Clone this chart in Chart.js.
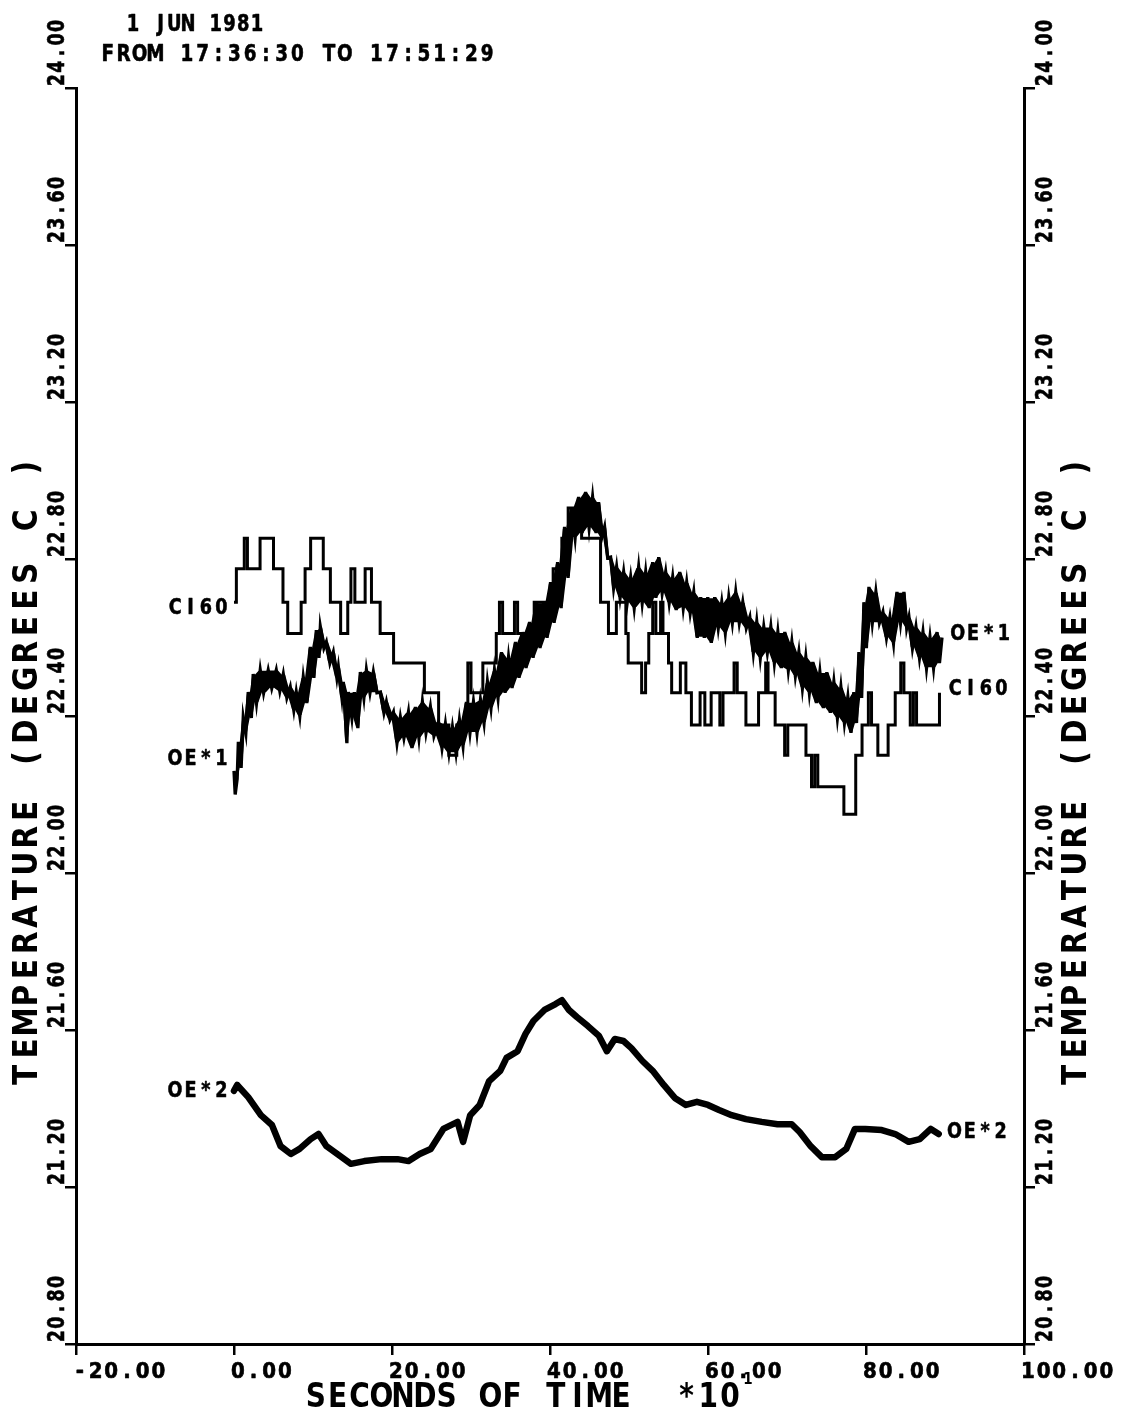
<!DOCTYPE html>
<html>
<head>
<meta charset="utf-8">
<script src="https://cdn.jsdelivr.net/npm/chart.js@4"></script>
<style>
  html, body { margin: 0; padding: 0; background: #fff; }
  #c { display: block; }
</style>
</head>
<body>
<canvas id="c" width="1132" height="1416"></canvas>
<script>
// ---------------- data (time in seconds x10, temperature in deg C) ----------------
const xTicks = [-20, 0, 20, 40, 60, 80, 100];
const yTicks = [20.8, 21.2, 21.6, 22.0, 22.4, 22.8, 23.2, 23.6, 24.0];

const headerLine1 = "1 JUN 1981";
const headerLine2 = "FROM 17:36:30 TO 17:51:29";
const xTitle = "SECONDS OF TIME  *10";
const xTitleExp = "1";
const yTitle = "TEMPERATURE (DEGREES C )";
const seriesNames = ["CI60", "OE*1", "OE*2"];

const timeCI60 = [0, 0.3, 1.3, 1.7, 3.3, 5.0, 6.2, 6.8, 8.5, 9.0, 9.7, 11.3, 12.2, 13.5, 14.4, 14.8, 15.3, 16.6, 17.4, 18.5,
  20.2, 24.1, 25.9, 27.2, 28.2, 29.6, 30.0, 31.5, 33.2, 33.6, 34.0, 35.5, 35.9, 38.0, 40.4, 41.5, 42.3, 44.0, 46.4, 47.4,
  48.4, 49.6, 49.9, 51.6, 52.1, 52.5, 53.0, 53.4, 54.0, 54.3, 55.0, 55.4, 56.5, 57.2, 57.9, 59.0, 59.6, 60.4, 61.5, 61.9,
  63.3, 63.7, 64.8, 66.4, 67.3, 67.6, 68.5, 69.7, 70.1, 72.4, 73.1, 73.5, 73.9, 77.2, 78.7, 79.5, 80.3, 80.7, 81.5, 82.8,
  83.7, 84.4, 84.8, 85.6, 86.0, 86.4, 89.3];
const ci60 = [22.69, 22.775, 22.853, 22.775, 22.853, 22.775, 22.69, 22.61, 22.69, 22.775, 22.853, 22.775, 22.69, 22.61, 22.69, 22.775, 22.69, 22.775, 22.69, 22.61,
  22.535, 22.459, 22.377, 22.30, 22.377, 22.535, 22.459, 22.535, 22.61, 22.69, 22.61, 22.69, 22.61, 22.69, 22.775, 22.853, 22.93, 22.853, 22.69, 22.61,
  22.69, 22.61, 22.535, 22.459, 22.535, 22.61, 22.69, 22.61, 22.69, 22.61, 22.535, 22.459, 22.535, 22.459, 22.377, 22.459, 22.377, 22.459, 22.377, 22.459,
  22.535, 22.459, 22.377, 22.459, 22.535, 22.459, 22.377, 22.30, 22.377, 22.30, 22.22, 22.30, 22.22, 22.15, 22.30, 22.377, 22.459, 22.377, 22.30, 22.377,
  22.459, 22.535, 22.459, 22.377, 22.459, 22.377, 22.459];

const timeOE1 = [0.00, 0.15, 0.40, 0.55, 0.90, 1.17, 1.50, 1.80, 2.20, 2.43, 2.85, 3.32, 3.75, 4.33, 4.78, 5.35, 5.80, 6.24, 6.69, 7.12,
  7.57, 7.88, 8.33, 8.77, 9.22, 9.66, 10.11, 10.42, 10.75, 10.93, 11.38, 11.69, 12.14, 12.57, 13.02, 13.21, 13.66, 13.84, 14.29, 14.47,
  14.92, 15.23, 15.68, 15.99, 16.44, 16.76, 17.21, 17.64, 18.09, 18.53, 18.98, 19.29, 19.74, 20.18, 20.63, 21.06, 21.51, 22.08, 22.53, 22.96,
  23.41, 23.85, 24.30, 24.86, 25.31, 25.88, 26.33, 26.76, 27.21, 27.65, 28.10, 28.54, 28.99, 29.42, 29.87, 30.31, 30.76, 31.20, 31.65, 32.08,
  32.53, 32.97, 33.42, 33.86, 34.31, 34.75, 35.20, 35.63, 36.08, 36.52, 36.97, 37.41, 37.86, 38.29, 38.74, 39.18, 39.63, 40.07, 40.52, 40.96,
  41.41, 41.84, 42.29, 42.73, 43.18, 43.62, 44.07, 44.50, 44.95, 45.39, 45.84, 46.15, 46.55, 46.91, 47.30, 47.67, 48.05, 48.43, 48.87, 49.32,
  49.77, 50.21, 50.66, 51.22, 51.67, 52.11, 52.56, 53.00, 53.40, 53.76, 54.20, 54.64, 55.09, 55.53, 55.98, 56.42, 56.87, 57.30, 57.75, 58.19,
  58.64, 59.08, 59.53, 59.97, 60.42, 60.85, 61.30, 61.74, 62.19, 62.63, 63.08, 63.51, 63.96, 64.40, 64.85, 65.29, 65.74, 66.17, 66.62, 67.06,
  67.51, 67.95, 68.40, 68.84, 69.29, 69.72, 70.17, 70.61, 71.06, 71.50, 71.95, 72.38, 72.83, 73.27, 73.72, 74.16, 74.61, 75.04, 75.49, 75.93,
  76.38, 76.82, 77.27, 77.70, 78.10, 78.46, 78.80, 79.10, 79.45, 79.73, 80.05, 80.37, 80.80, 81.25, 81.70, 82.14, 82.59, 83.03, 83.48, 83.92,
  84.37, 84.80, 85.15, 85.44, 85.88, 86.32, 86.77, 87.21, 87.66, 88.10, 88.55, 88.99, 89.30, 89.62];
const oe1 = [22.26, 22.20, 22.24, 22.334, 22.268, 22.397, 22.357, 22.461, 22.395, 22.507, 22.433, 22.517, 22.459, 22.517, 22.471, 22.517, 22.463, 22.507, 22.446, 22.474,
  22.415, 22.461, 22.400, 22.499, 22.433, 22.576, 22.497, 22.619, 22.548, 22.627, 22.573, 22.589, 22.535, 22.563, 22.497, 22.525, 22.446, 22.487, 22.331, 22.461,
  22.395, 22.461, 22.369, 22.512, 22.446, 22.517, 22.459, 22.512, 22.459, 22.461, 22.408, 22.436, 22.390, 22.410, 22.331, 22.397, 22.344, 22.410, 22.318, 22.423,
  22.344, 22.436, 22.357, 22.423, 22.349, 22.385, 22.318, 22.380, 22.306, 22.372, 22.306, 22.390, 22.324, 22.436, 22.357, 22.436, 22.357, 22.441, 22.382, 22.487,
  22.420, 22.517, 22.446, 22.563, 22.459, 22.550, 22.471, 22.589, 22.497, 22.614, 22.522, 22.640, 22.548, 22.690, 22.573, 22.690, 22.599, 22.741, 22.637, 22.792,
  22.675, 22.882, 22.752, 22.932, 22.854, 22.958, 22.866, 22.971, 22.879, 22.958, 22.866, 22.945, 22.854, 22.882, 22.803, 22.805, 22.726, 22.780, 22.701, 22.767,
  22.688, 22.754, 22.675, 22.780, 22.688, 22.767, 22.675, 22.792, 22.701, 22.805, 22.713, 22.767, 22.688, 22.754, 22.670, 22.767, 22.675, 22.741, 22.662, 22.716,
  22.599, 22.703, 22.599, 22.703, 22.586, 22.703, 22.624, 22.690, 22.612, 22.703, 22.637, 22.716, 22.637, 22.690, 22.624, 22.652, 22.561, 22.640, 22.548, 22.627,
  22.561, 22.627, 22.535, 22.614, 22.522, 22.614, 22.517, 22.589, 22.502, 22.563, 22.471, 22.550, 22.459, 22.538, 22.433, 22.512, 22.420, 22.512, 22.408, 22.487,
  22.395, 22.474, 22.382, 22.448, 22.357, 22.461, 22.382, 22.563, 22.446, 22.690, 22.573, 22.729, 22.637, 22.716, 22.637, 22.665, 22.599, 22.652, 22.586, 22.716,
  22.637, 22.716, 22.624, 22.652, 22.573, 22.627, 22.548, 22.614, 22.522, 22.601, 22.522, 22.614, 22.535, 22.600];

const timeOE2 = [0, 0.4, 1.8, 3.4, 4.8, 5.9, 7.2, 8.3, 9.7, 10.7, 11.7, 13.1, 14.8, 16.5, 18.7, 20.7, 22.1, 23.5, 24.9, 26.5,
  28.3, 29.0, 29.9, 31.1, 32.3, 33.7, 34.5, 35.9, 36.9, 37.9, 39.3, 40.7, 41.5, 42.4, 43.4, 44.8, 46.2, 47.2, 48.2, 49.3,
  50.3, 51.7, 53.0, 54.4, 55.8, 57.2, 58.6, 60.0, 61.4, 63.0, 64.8, 66.8, 68.8, 70.6, 71.6, 73.0, 74.4, 76.1, 77.5, 78.6,
  79.9, 82.0, 83.7, 85.4, 86.8, 88.2, 89.2];
const oe2 = [21.445, 21.46, 21.429, 21.383, 21.358, 21.304, 21.284, 21.297, 21.322, 21.335, 21.304, 21.284, 21.259, 21.266, 21.271, 21.271, 21.266, 21.284, 21.297, 21.348,
  21.366, 21.315, 21.383, 21.409, 21.470, 21.496, 21.529, 21.546, 21.590, 21.623, 21.651, 21.666, 21.676, 21.651, 21.633, 21.610, 21.585, 21.546, 21.577, 21.572,
  21.554, 21.521, 21.496, 21.460, 21.427, 21.409, 21.417, 21.409, 21.396, 21.383, 21.373, 21.366, 21.360, 21.360, 21.340, 21.304, 21.276, 21.276, 21.297, 21.348,
  21.348, 21.345, 21.335, 21.315, 21.322, 21.348, 21.335];

// ---------------- helpers ----------------
const pts = (xs, ys) => xs.map((x, i) => ({ x: x, y: ys[i] }));
// solid core of the noisy OE*1 trace: the inner part of each swing between consecutive readings
function coreBand(xs, ys, frac, upper) {
  const out = [];
  for (let i = 0; i < xs.length - 1; i++) {
    const mid = (ys[i] + ys[i + 1]) / 2, half = Math.abs(ys[i] - ys[i + 1]) / 2 * frac;
    out.push({ x: (xs[i] + xs[i + 1]) / 2, y: upper ? mid + half : mid - half });
  }
  return out;
}
const FONT = '"DejaVu Sans", "Liberation Sans", sans-serif';

// plotter-style lettering: every character centred in a fixed-width cell, squeezed horizontally
function drawMono(ctx, str, x, y, adv, size, rotated, weight, sx) {
  ctx.save();
  ctx.translate(x, y);
  if (rotated) ctx.rotate(-Math.PI / 2);
  ctx.font = 'bold ' + size + 'px ' + FONT;
  ctx.textAlign = 'center';
  ctx.textBaseline = 'alphabetic';
  ctx.fillStyle = '#000';
  ctx.strokeStyle = '#000';
  ctx.lineJoin = 'round';
  for (let i = 0; i < str.length; i++) {
    ctx.save();
    ctx.translate((i + 0.5) * adv, 0);
    ctx.scale(sx || 1, 1);
    ctx.fillText(str[i], 0, 0);
    if (weight) { ctx.lineWidth = weight; ctx.strokeText(str[i], 0, 0); }
    ctx.restore();
  }
  ctx.restore();
}

const textPlugin = {
  id: 'plotterText',
  afterDraw(chart) {
    const ctx = chart.ctx;
    const xs = chart.scales.x, yl = chart.scales.y, yr = chart.scales.y2;
    const area = chart.chartArea;

    // header
    drawMono(ctx, headerLine1, 126, 31, 13.8, 23, false, 0.6, 0.78);
    drawMono(ctx, headerLine2, 100, 61, 15.8, 23, false, 0.6, 0.8);

    // x tick labels
    xTicks.forEach(v => {
      const px = xs.getPixelForValue(v);
      drawMono(ctx, v.toFixed(2), px - 4, area.bottom + 34, 15.7, 22, false, 0.7, 0.9);
    });
    // x title
    drawMono(ctx, xTitle, 305, area.bottom + 63, 21.8, 33, false, 0, 0.85);
    drawMono(ctx, xTitleExp, 305 + xTitle.length * 21.8 + 2, area.bottom + 40, 10, 15, false, 0, 0.9);

    // y tick labels (both sides), rotated
    yTicks.forEach(v => {
      drawMono(ctx, v.toFixed(2), area.left - 12, yl.getPixelForValue(v) - 1, 13.6, 23, true, 0.6, 0.76);
      drawMono(ctx, v.toFixed(2), area.right + 28, yr.getPixelForValue(v) - 1, 13.6, 23, true, 0.6, 0.76);
    });
    // y titles
    drawMono(ctx, yTitle, area.left - 39, 1088, 26.4, 33, true, 0, 0.9);
    drawMono(ctx, yTitle, area.right + 62, 1088, 26.4, 33, true, 0, 0.9);

    // series labels at the start and end of each curve
    const adv = 15.4;
    chart.data.datasets.forEach((ds, i) => {
      const k = seriesNames.indexOf(ds.label);
      if (k < 0) return;
      const meta = chart.getDatasetMeta(i);
      const first = meta.data[0], last = meta.data[meta.data.length - 1];
      const offL = [12, -6, 6][k];
      const offR = [2, 2, 4][k];
      drawMono(ctx, ds.label, first.x - 5 - ds.label.length * adv, first.y + offL, adv, 22, false, 0.6, 0.8);
      drawMono(ctx, ds.label, last.x + 8, last.y + offR, adv, 22, false, 0.6, 0.8);
    });
  }
};

const axisGrid = { display: true, drawOnChartArea: false, drawTicks: true, tickLength: 11, color: '#000', lineWidth: 2.5 };
const axisBorder = { display: true, color: '#000', width: 3 };

new Chart(document.getElementById('c'), {
  type: 'line',
  data: {
    datasets: [
      { label: seriesNames[0], data: pts(timeCI60, ci60), stepped: true, borderColor: '#000', borderWidth: 3, pointRadius: 0, fill: false },
      { label: seriesNames[1], data: pts(timeOE1, oe1), borderColor: '#000', borderWidth: 3.3, pointRadius: 0, fill: false, tension: 0 },
      { label: seriesNames[2], data: pts(timeOE2, oe2), borderColor: '#000', borderWidth: 6.5, pointRadius: 0, fill: false, tension: 0, borderJoinStyle: 'round', borderCapStyle: 'round' },
      { label: 'oe1-core-hi', data: coreBand(timeOE1, oe1, 0.95, true), borderWidth: 0, pointRadius: 0, fill: '+1', backgroundColor: '#000', tension: 0 },
      { label: 'oe1-core-lo', data: coreBand(timeOE1, oe1, 0.95, false), borderWidth: 0, pointRadius: 0, fill: false, tension: 0 }
    ]
  },
  options: {
    responsive: false,
    animation: false,
    events: [],
    layout: { padding: { top: 88, left: 0, right: 0, bottom: 0 } },
    plugins: { legend: { display: false }, tooltip: { enabled: false }, title: { display: false } },
    scales: {
      x: {
        type: 'linear', position: 'bottom', min: -20, max: 100,
        ticks: { stepSize: 20, color: 'rgba(0,0,0,0)', autoSkip: false, maxRotation: 0 },
        grid: axisGrid, border: axisBorder,
        afterFit: s => { s.height = 72; }
      },
      y: {
        type: 'linear', position: 'left', min: 20.8, max: 24.0,
        ticks: { stepSize: 0.4, color: 'rgba(0,0,0,0)', autoSkip: false },
        grid: axisGrid, border: axisBorder,
        afterFit: s => { s.width = 76; }
      },
      y2: {
        type: 'linear', position: 'right', min: 20.8, max: 24.0,
        ticks: { stepSize: 0.4, color: 'rgba(0,0,0,0)', autoSkip: false },
        grid: axisGrid, border: axisBorder,
        afterFit: s => { s.width = 108; }
      }
    }
  },
  plugins: [textPlugin]
});
</script>
</body>
</html>
